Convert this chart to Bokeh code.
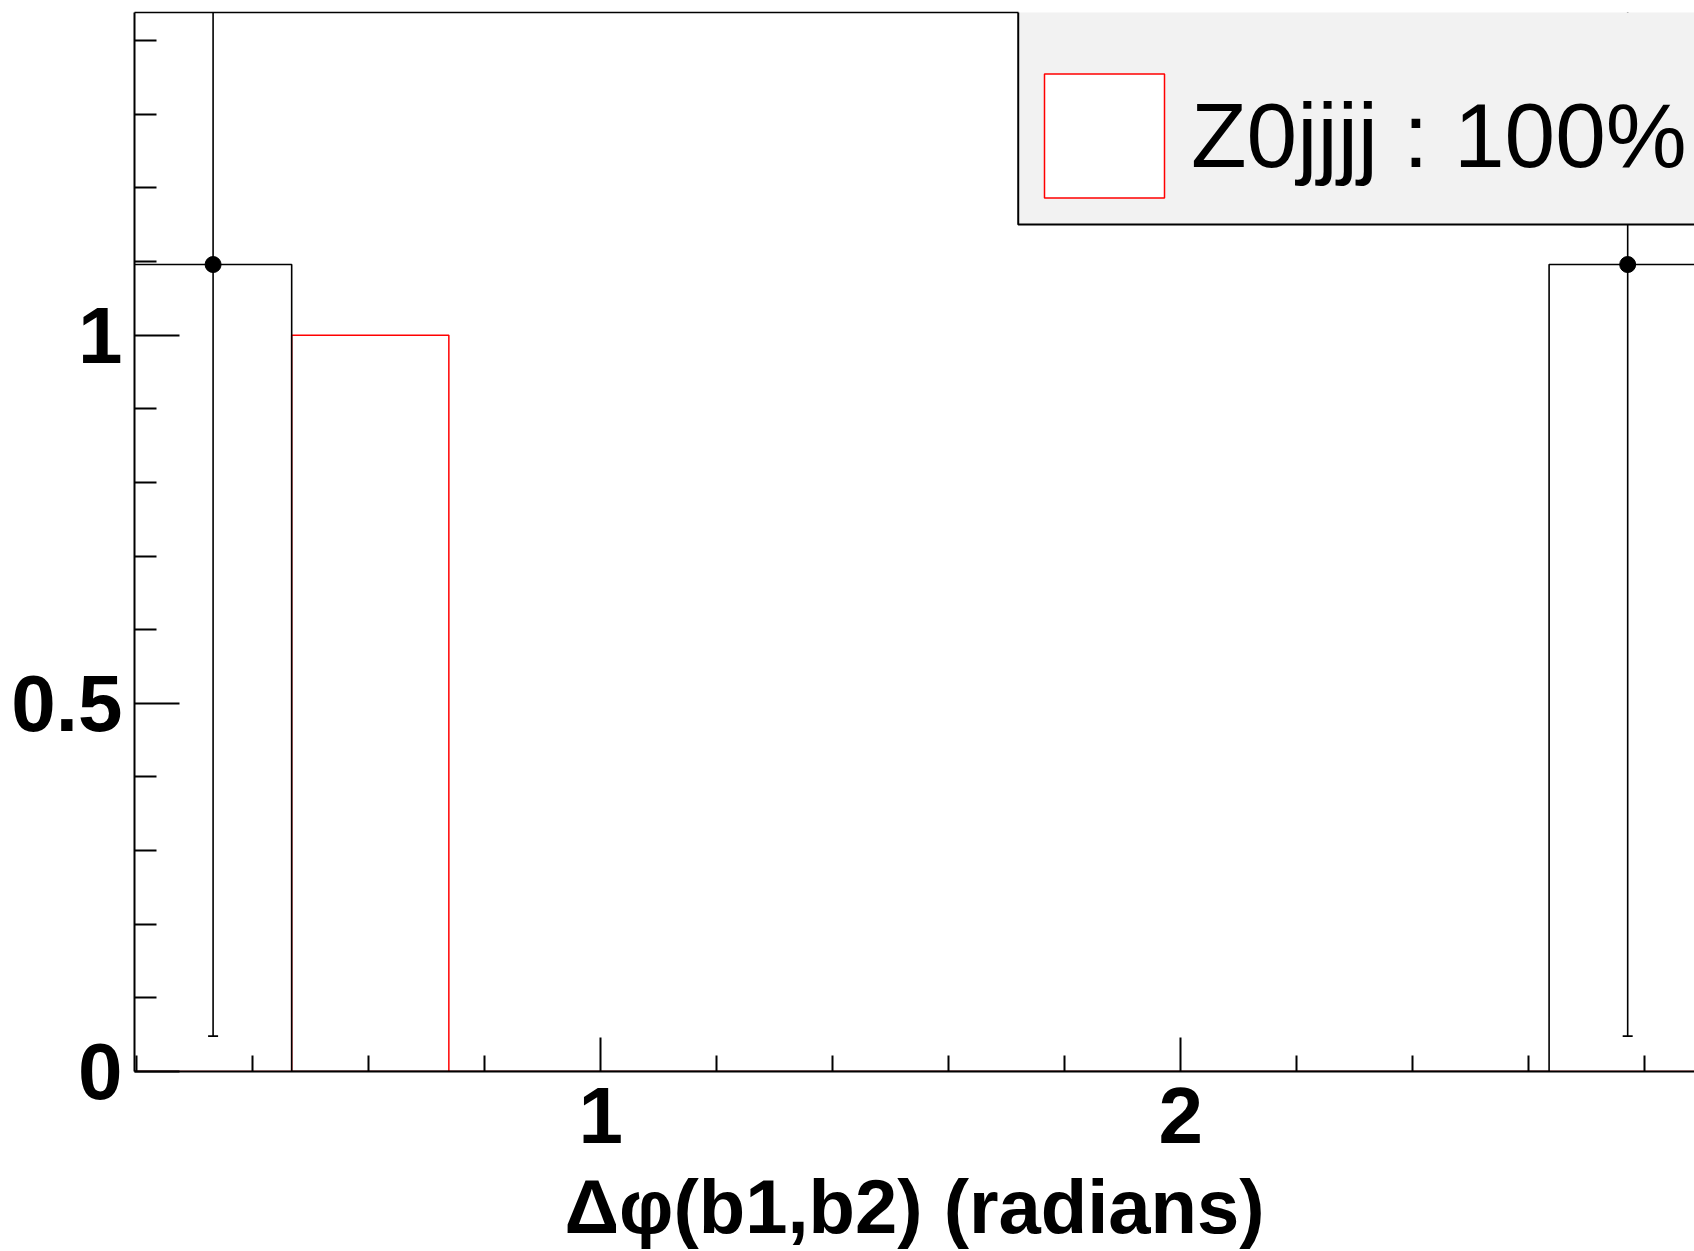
from bokeh.plotting import figure
from bokeh.models import (Range1d, FixedTicker, LinearAxis, BoxAnnotation, Legend,
                          LegendItem, ColumnDataSource)
from bokeh.embed import file_html
from bokeh.resources import INLINE

# ---- data ----
bin_edges = [0.196, 0.467, 0.738, 1.009, 1.280, 1.551, 1.822, 2.093, 2.364, 2.635, 2.906]
data_values = [1.096, 0, 0, 0, 0, 0, 0, 0, 0, 1.096]
data_errors = [1.048, 0, 0, 0, 0, 0, 0, 0, 0, 1.048]
z0jjjj_values = [0, 1.0, 0, 0, 0, 0, 0, 0, 0, 0]
legend_label = "Z0jjjj : 100%"
x_title = "Δφ(b1,b2) (radians)"
x_tick_values = [1, 2]
x_tick_labels = ["1", "2"]
x_minor_ticks = [0.2, 0.4, 0.6, 0.8, 1.2, 1.4, 1.6, 1.8, 2.2, 2.4, 2.6, 2.8]
y_tick_values = [0, 0.5, 1]
y_tick_labels = ["0", "0.5", "1"]
y_minor_ticks = [0.1, 0.2, 0.3, 0.4, 0.6, 0.7, 0.8, 0.9, 1.1, 1.2, 1.3, 1.4]

FONT = "Liberation Sans"
W, H = 1694, 1251
LEGEND_LEFT = 1.7197     # legend box edges in axis units (decoration)
LEGEND_BOTTOM = 1.1503

p = figure(width=W, height=H, output_backend="svg", toolbar_location=None,
           x_range=Range1d(bin_edges[0], 2.8857), y_range=Range1d(0, 1.4383),
           min_border_left=134, min_border_right=0, min_border_top=12, min_border_bottom=180,
           background_fill_color="white", border_fill_color="white", outline_line_color=None)
p.grid.visible = False

xa = p.xaxis[0]
xa.ticker = FixedTicker(ticks=x_tick_values, minor_ticks=x_minor_ticks)
xa.major_label_overrides = dict(zip(x_tick_values, x_tick_labels))
xa.major_tick_in = 34
xa.major_tick_out = 0
xa.minor_tick_in = 16
xa.minor_tick_out = 0
xa.major_tick_line_width = 2
xa.minor_tick_line_width = 2
xa.axis_line_width = 2
xa.major_label_text_font = FONT
xa.major_label_text_font_style = "bold"
xa.major_label_text_font_size = "80px"
xa.major_label_text_color = "black"
xa.major_label_standoff = 16
xa.axis_label = x_title
xa.axis_label_text_font = FONT
xa.axis_label_text_font_style = "bold"
xa.axis_label_text_font_size = "76px"
xa.axis_label_text_color = "black"
xa.axis_label_standoff = 18

ya = p.yaxis[0]
ya.ticker = FixedTicker(ticks=y_tick_values, minor_ticks=y_minor_ticks)
ya.major_label_overrides = dict(zip(y_tick_values, y_tick_labels))
ya.major_tick_in = 45
ya.major_tick_out = 0
ya.minor_tick_in = 22
ya.minor_tick_out = 0
ya.major_tick_line_width = 2
ya.minor_tick_line_width = 2
ya.axis_line_width = 2
ya.major_label_text_font = FONT
ya.major_label_text_font_style = "bold"
ya.major_label_text_font_size = "80px"
ya.major_label_text_color = "black"
ya.major_label_standoff = 12

top_axis = LinearAxis(ticker=FixedTicker(ticks=[]), major_tick_in=0, major_tick_out=0,
                      minor_tick_in=0, minor_tick_out=0, major_label_standoff=0,
                      axis_line_width=1.5, major_label_text_font_size="0px",
                      bounds=(bin_edges[0], LEGEND_LEFT))
p.add_layout(top_axis, "above")

# ---- red histogram (Z0jjjj) ----
n = len(z0jjjj_values)
src_red = ColumnDataSource(dict(left=bin_edges[:-1], right=bin_edges[1:],
                                top=z0jjjj_values, bottom=[0] * n))
r_red = p.quad(left="left", right="right", top="top", bottom="bottom", source=src_red,
               fill_color="white", line_color="red", line_width=1.5)

# ---- black histogram (data) ----
p.step(x=bin_edges, y=data_values + [data_values[-1]], mode="after",
       line_color="black", line_width=1.6)

centers = [(a + b) / 2 for a, b in zip(bin_edges[:-1], bin_edges[1:])]
idx = [i for i, v in enumerate(data_values) if v > 0]
ex = [centers[i] for i in idx]
ey = [data_values[i] for i in idx]
elo = [data_values[i] - data_errors[i] for i in idx]
ehi = [data_values[i] + data_errors[i] for i in idx]
p.segment(x0=ex, y0=elo, x1=ex, y1=ehi, line_color="black", line_width=1.6)
p.scatter(x=ex, y=elo, marker="dash", size=10, line_color="black", line_width=1.6)
p.scatter(x=ex, y=ey, marker="circle", size=16, fill_color="black", line_color="black")

# ---- legend ----
box = BoxAnnotation(left=LEGEND_LEFT, bottom=LEGEND_BOTTOM, top=2.5, right=3.5,
                    fill_color="#f2f2f2", fill_alpha=1.0,
                    line_color="black", line_alpha=1.0, line_width=2)
p.add_layout(box)

legend = Legend(items=[LegendItem(label=legend_label, renderers=[r_red])],
                location=(895, 858), padding=0, margin=0, spacing=0,
                border_line_color=None, background_fill_alpha=0,
                glyph_width=150, glyph_height=155, label_standoff=12,
                label_text_font=FONT, label_text_font_size="91px",
                label_text_color="black")
p.add_layout(legend)

open("out.html", "w").write(file_html(p, INLINE))
